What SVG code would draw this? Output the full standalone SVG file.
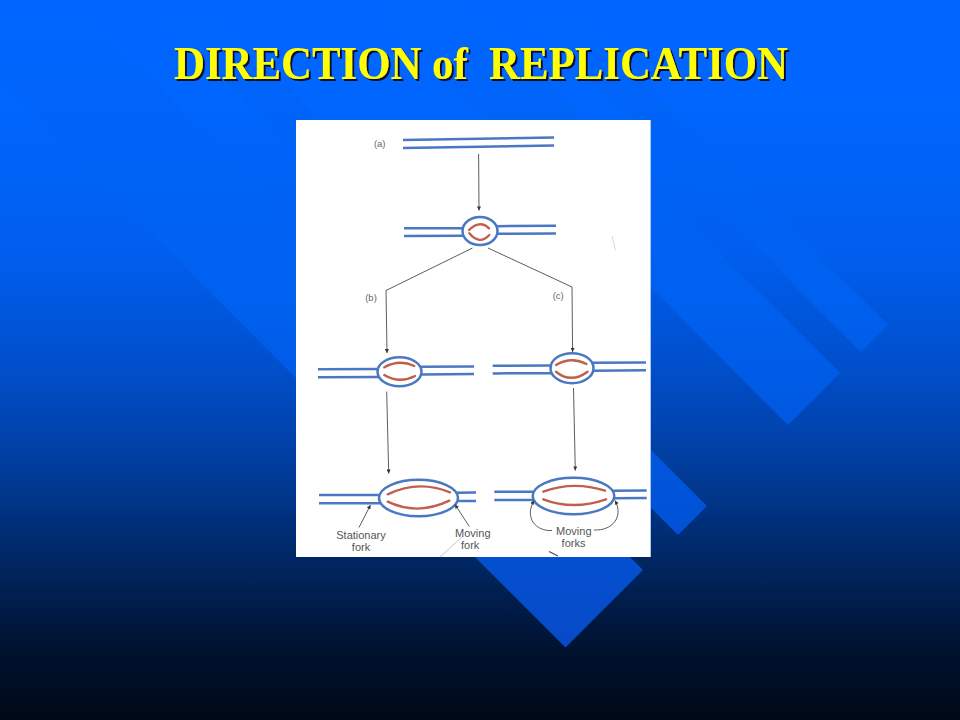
<svg xmlns="http://www.w3.org/2000/svg" width="960" height="720" viewBox="0 0 960 720">
  <defs>
    <linearGradient id="bg" x1="0" y1="0" x2="0" y2="720" gradientUnits="userSpaceOnUse">
      <stop offset="0" stop-color="#0066ff"/>
      <stop offset="0.14" stop-color="#0066ff"/>
      <stop offset="0.35" stop-color="#005eee"/>
      <stop offset="0.5" stop-color="#0050ce"/>
      <stop offset="0.6" stop-color="#0043ae"/>
      <stop offset="0.7" stop-color="#003486"/>
      <stop offset="0.8" stop-color="#00235a"/>
      <stop offset="0.9" stop-color="#001230"/>
      <stop offset="1" stop-color="#000816"/>
    </linearGradient>
    <linearGradient id="band" x1="0" y1="0" x2="0" y2="720" gradientUnits="userSpaceOnUse">
      <stop offset="0" stop-color="#0066ff"/>
      <stop offset="0.42" stop-color="#0060ef"/>
      <stop offset="0.6" stop-color="#0058e0"/>
      <stop offset="0.72" stop-color="#0052d6"/>
      <stop offset="0.9" stop-color="#084ac6"/>
      <stop offset="1" stop-color="#0a46bc"/>
    </linearGradient>
    <filter id="shadow" x="-5%" y="-20%" width="110%" height="150%">
      <feOffset in="SourceAlpha" dx="2" dy="2" result="off"/>
      <feFlood flood-color="#0a0a30"/>
      <feComposite in2="off" operator="in" result="sh"/>
      <feMerge>
        <feMergeNode in="sh"/>
        <feMergeNode in="SourceGraphic"/>
      </feMerge>
    </filter>
    <marker id="ah" viewBox="0 0 10 10" refX="10" refY="5" markerWidth="5" markerHeight="4" markerUnits="userSpaceOnUse" orient="auto">
      <path d="M0,0 L10,5 L0,10 Z" fill="#333"/>
    </marker>
    <style>
      .strand { fill: none; stroke: #4a78c2; stroke-width: 2.5; }
      .new { fill: none; stroke: #c0604c; stroke-width: 2.4; stroke-linecap: round; }
      .conn { fill: none; stroke: #333; stroke-width: 0.8; }
      .lbl { font-family: "Liberation Sans", Arial, sans-serif; font-size: 9.5px; fill: #666; text-anchor: middle; }
      .note { font-family: "Liberation Sans", Arial, sans-serif; font-size: 11px; fill: #555; text-anchor: middle; }
      .band { fill: url(#band); }
    </style>
  </defs>

  <!-- background -->
  <rect x="0" y="0" width="960" height="720" fill="url(#bg)"/>
  <g id="bands">
    <polygon class="band" points="281.5,-281.5 888,325 861,352 254.5,-254.5"/>
    <polygon class="band" points="233.5,-233.5 840,373 788,425 181.5,-181.5"/>
    <polygon class="band" points="100.5,-100.5 707,506 678,535 71.5,-71.5"/>
    <polygon class="band" points="36.5,-36.5 643,570 565.5,647.5 -41,41"/>
  </g>

  <!-- title -->
  <g id="title">
    <text x="174" y="79" textLength="614" lengthAdjust="spacingAndGlyphs" fill="#ffff00" filter="url(#shadow)" font-family="'Liberation Serif', 'Times New Roman', serif" font-weight="bold" font-size="46" xml:space="preserve">DIRECTION of  REPLICATION</text>
  </g>

  <!-- figure panel -->
  <g id="panel">
    <rect x="296" y="120" width="355" height="437" fill="#ffffff"/>
    <line x1="650.5" y1="120" x2="650.5" y2="557" stroke="#a9c6f0" stroke-width="1"/>
    <line x1="612" y1="236" x2="615.5" y2="250" stroke="#d8d8d8" stroke-width="1"/>
    <line x1="440" y1="557" x2="463" y2="536" stroke="#b8b8b8" stroke-width="0.8"/>
    <line x1="549" y1="551.5" x2="558" y2="556" stroke="#444466" stroke-width="1.2"/>
  </g>

  <g id="dna-a">
    <line class="strand" x1="403" y1="140" x2="554" y2="137.6"/>
    <line class="strand" x1="403" y1="148" x2="554" y2="145.6"/>
  </g>

  <g id="dna-origin">
    <ellipse class="strand" cx="480" cy="231" rx="17.5" ry="14"/>
    <line class="strand" x1="404" y1="228.3" x2="463.2" y2="228.2"/>
    <line class="strand" x1="404" y1="236" x2="463.6" y2="235.8"/>
    <line class="strand" x1="496.6" y1="226.2" x2="556" y2="225.8"/>
    <line class="strand" x1="497" y1="233.8" x2="556" y2="233.4"/>
    <path class="new" d="M469,230 Q480,219.5 489,228.3"/>
    <path class="new" d="M469.3,233.3 Q479.5,245.5 489.3,235"/>
  </g>

  <g id="dna-b1">
    <ellipse class="strand" cx="399.5" cy="371.8" rx="22" ry="14.5"/>
    <line class="strand" x1="318" y1="369.2" x2="377.9" y2="369.1"/>
    <line class="strand" x1="318" y1="377.2" x2="379" y2="377"/>
    <line class="strand" x1="420.4" y1="366.8" x2="474" y2="366.5"/>
    <line class="strand" x1="421" y1="374.4" x2="474" y2="374.1"/>
    <path class="new" d="M384.3,367.3 Q399.3,359 414.3,366"/>
    <path class="new" d="M384.3,375 Q399.3,384 415,376"/>
  </g>

  <g id="dna-c1">
    <ellipse class="strand" cx="572" cy="368.2" rx="21.5" ry="15"/>
    <line class="strand" x1="492.7" y1="365.7" x2="550.9" y2="365.6"/>
    <line class="strand" x1="492.7" y1="373.4" x2="551.8" y2="373.3"/>
    <line class="strand" x1="592" y1="362.8" x2="646" y2="362.4"/>
    <line class="strand" x1="593.2" y1="370.7" x2="646" y2="370.3"/>
    <path class="new" d="M556,365 Q571,356 586.5,364"/>
    <path class="new" d="M556,371.7 Q571,384 587.5,371.7"/>
  </g>

  <g id="dna-b2">
    <ellipse class="strand" cx="418.5" cy="498" rx="39.5" ry="18.3"/>
    <line class="strand" x1="319" y1="495" x2="379.6" y2="495"/>
    <line class="strand" x1="319" y1="503.3" x2="380.7" y2="503.3"/>
    <line class="strand" x1="456.4" y1="492.7" x2="476" y2="492.6"/>
    <line class="strand" x1="457.5" y1="501" x2="476" y2="500.9"/>
    <path class="new" d="M387.7,494.3 Q418.5,479.5 450,492.3"/>
    <path class="new" d="M387.7,501.7 Q417.5,516 449.3,500.7"/>
  </g>

  <g id="dna-c2">
    <ellipse class="strand" cx="573.5" cy="496" rx="40.8" ry="18.3"/>
    <line class="strand" x1="494.3" y1="491.8" x2="533.8" y2="491.7"/>
    <line class="strand" x1="494.3" y1="500" x2="533.7" y2="500"/>
    <line class="strand" x1="612.5" y1="490.7" x2="646.7" y2="490.5"/>
    <line class="strand" x1="614" y1="498.3" x2="646.7" y2="498.1"/>
    <path class="new" d="M543.3,491.7 Q573.3,480.5 605,490.7"/>
    <path class="new" d="M543.3,499.3 Q573.3,510.7 606,499.3"/>
  </g>

  <g id="connectors">
    <line class="conn" x1="478.6" y1="154" x2="479" y2="210.5" marker-end="url(#ah)"/>
    <polyline class="conn" points="472.5,248 386,290.5 387,353" marker-end="url(#ah)"/>
    <polyline class="conn" points="488,248 572,287 572.6,352" marker-end="url(#ah)"/>
    <line class="conn" x1="386.7" y1="391.5" x2="388.7" y2="473.5" marker-end="url(#ah)"/>
    <line class="conn" x1="573.5" y1="388" x2="575.3" y2="470.5" marker-end="url(#ah)"/>
    <line class="conn" x1="359" y1="527.5" x2="370.5" y2="505" marker-end="url(#ah)"/>
    <line class="conn" x1="469.3" y1="526.5" x2="455" y2="504.5" marker-end="url(#ah)"/>
    <path class="conn" d="M552,530.5 C536,531.5 524,518 534,500.5" marker-end="url(#ah)"/>
    <path class="conn" d="M594,530 C612,531 624,517 615,500.5" marker-end="url(#ah)"/>
  </g>

  <g id="labels">
    <text class="lbl" x="379.7" y="147.3">(a)</text>
    <text class="lbl" x="371" y="300.6">(b)</text>
    <text class="lbl" x="558.2" y="299.3">(c)</text>
    <text class="note" x="361" y="538.5">Stationary</text>
    <text class="note" x="361" y="550.5">fork</text>
    <text class="note" x="472.8" y="536.5">Moving</text>
    <text class="note" x="470.2" y="548.5">fork</text>
    <text class="note" x="573.8" y="534.8">Moving</text>
    <text class="note" x="573.5" y="546.8">forks</text>
  </g>
</svg>
